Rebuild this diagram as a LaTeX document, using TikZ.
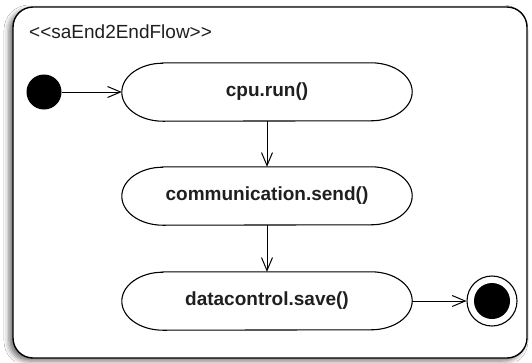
\documentclass[tikz,border=0pt]{standalone}
\usepackage{fontspec}
\newfontfamily\arialf{Liberation Sans}
\usetikzlibrary{arrows.meta,shadows.blur}
\tikzset{
  stadium/.style={minimum width=290pt, minimum height=58pt, inner sep=0pt,
    font=\arialf\bfseries\fontsize{19}{22}\selectfont, text=black!88},
  flow/.style={line width=1pt, -{Straight Barb[length=13pt,width=11pt,line width=1pt]}},
  outline/.style={line width=1.1pt}
}
\newcommand\stadiumpath[1]{%
  \draw[outline] ([xshift=41pt]#1.north west) -- ([xshift=-41pt]#1.north east)
    arc[start angle=90, end angle=-90, x radius=41pt, y radius=29pt]
    -- ([xshift=41pt]#1.south west)
    arc[start angle=270, end angle=90, x radius=41pt, y radius=29pt] -- cycle;}
\begin{document}
\begin{tikzpicture}[x=1pt,y=-1pt]
\fill[white] (0,0) rectangle (532,362);
\useasboundingbox (0,0) rectangle (532,362);
\node[draw, line width=1.4pt, fill=white, rounded corners=20pt, minimum width=514pt, minimum height=351pt,
  blur shadow={shadow xshift=-4pt, shadow yshift=-3pt, shadow blur radius=5pt, shadow opacity=55}] (frame) at (270,182.5) {};
\node[anchor=west, inner sep=0pt, font=\arialf\fontsize{19}{22}\selectfont, text=black!88] (stereo) at (29,32) {<<saEnd2EndFlow>>};
\node[stadium] (cpu) at (267,92) {cpu.run()};
\node[stadium] (comm) at (267,196) {communication.send()};
\node[stadium] (save) at (267,301) {datacontrol.save()};
\stadiumpath{cpu}
\stadiumpath{comm}
\stadiumpath{save}
\node[circle, fill=black, minimum size=35pt, inner sep=0pt] (init) at (44,92) {};
\node[circle, draw, line width=1.1pt, minimum size=50pt, inner sep=0pt] (fin) at (492,301) {};
\node[circle, fill=black, minimum size=36pt, inner sep=0pt] (finin) at (fin.center) {};
\draw[flow] (init) -- (cpu.west);
\draw[flow] (cpu.south) -- (comm.north);
\draw[flow] (comm.south) -- (save.north);
\draw[flow] (save.east) -- (fin);
\end{tikzpicture}
\end{document}
